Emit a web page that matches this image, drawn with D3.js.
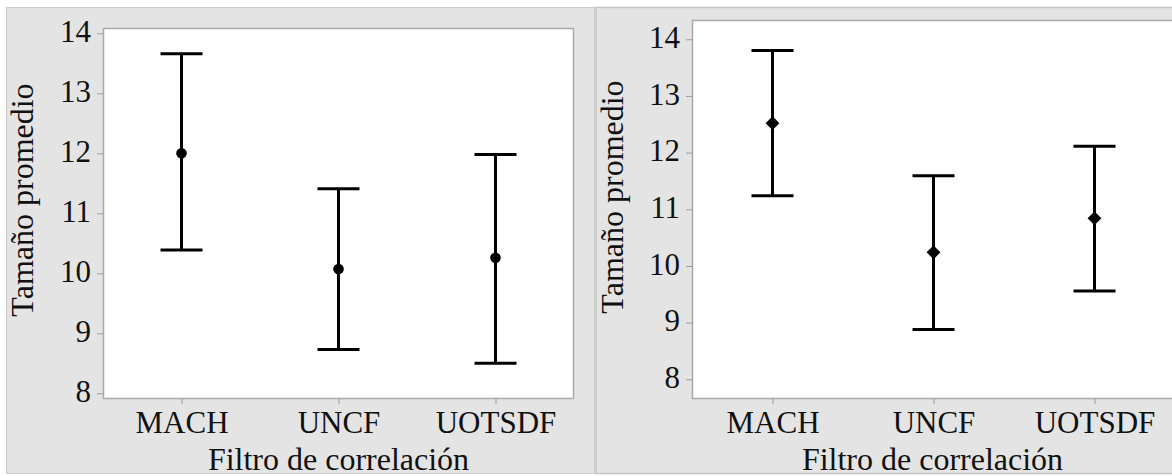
<!DOCTYPE html>
<html>
<head>
<meta charset="utf-8">
<script src="https://cdn.jsdelivr.net/npm/d3@7"></script>
<style>
  html, body { margin: 0; padding: 0; background: #ffffff; }
  svg { display: block; }
</style>
</head>
<body>
<svg id="chart" width="1172" height="476"></svg>
<script>
// Correlation filters compared in both panels
const categories = ["MACH", "UNCF", "UOTSDF"];

// Left panel: mean size with interval bounds
const leftMean  = [12.00, 10.07, 10.26];
const leftLower = [10.39,  8.73,  8.50];
const leftUpper = [13.66, 11.41, 11.98];

// Right panel: mean size with interval bounds
const rightMean  = [12.52, 10.24, 10.84];
const rightLower = [11.24,  8.88,  9.56];
const rightUpper = [13.80, 11.59, 12.11];

// Axis tick values and visible value ranges
const yTicks = [8, 9, 10, 11, 12, 13, 14];
const leftRange = [7.905, 14.088];
const rightRange = [7.652, 14.34];

const yTitle = "Tamaño promedio";
const xTitle = "Filtro de correlación";

const svg = d3.select("#chart");
const FONT = 31;
const FAMILY = "'Liberation Serif', 'Tinos', 'Times New Roman', serif";

// Panel backgrounds
svg.append("rect").attr("x", 6.5).attr("y", 7.5).attr("width", 588).attr("height", 466)
  .attr("fill", "#e4e4e4").attr("stroke", "#c9c9c9").attr("stroke-width", 1);
svg.append("rect").attr("x", 596).attr("y", 7.5).attr("width", 600).attr("height", 466)
  .attr("fill", "#e4e4e4").attr("stroke", "#c4c4c4").attr("stroke-width", 1.5);

function drawPanel(cfg) {
  const x = d3.scalePoint().domain(categories).range([cfg.left, cfg.right]).padding(0.5);
  const y = d3.scaleLinear().domain(cfg.domain).range([cfg.bottom, cfg.top]);
  const g = svg.append("g");

  // Plot area
  g.append("rect")
    .attr("x", cfg.left + 0.5).attr("y", cfg.top + 0.5)
    .attr("width", cfg.right - cfg.left - 1).attr("height", cfg.bottom - cfg.top - 1)
    .attr("fill", "#ffffff").attr("stroke", "#a9a9a9").attr("stroke-width", 1.5);

  // Y axis
  const ya = g.append("g").attr("transform", `translate(${cfg.left},0)`)
    .call(d3.axisLeft(y).tickValues(yTicks).tickSize(6).tickPadding(6).tickFormat(d3.format("d")));
  ya.attr("font-family", null).attr("font-size", null);
  ya.select(".domain").remove();
  ya.selectAll(".tick line").attr("stroke", "#9a9a9a");
  ya.selectAll(".tick text").attr("dy", "0.27em")
    .style("font-family", FAMILY).style("font-size", FONT + "px").attr("fill", "#111");

  // X axis
  const xa = g.append("g").attr("transform", `translate(0,${cfg.bottom})`)
    .call(d3.axisBottom(x).tickSize(5).tickPadding(6.5));
  xa.attr("font-family", null).attr("font-size", null);
  xa.select(".domain").remove();
  xa.selectAll(".tick line").attr("stroke", "#9a9a9a");
  xa.selectAll(".tick text")
    .style("font-family", FAMILY).style("font-size", FONT + "px").attr("fill", "#111");

  // Axis titles
  g.append("text")
    .attr("transform", `translate(${cfg.yTitleX},${cfg.yTitleY}) rotate(-90)`)
    .attr("text-anchor", "middle")
    .style("font-family", FAMILY).style("font-size", (FONT + 1) + "px").attr("fill", "#111")
    .text(yTitle);
  g.append("text")
    .attr("x", cfg.xTitleX).attr("y", 470)
    .attr("text-anchor", "middle")
    .style("font-family", FAMILY).style("font-size", (FONT + 1) + "px").attr("fill", "#111")
    .text(xTitle);

  const capHalf = 21;
  const rows = categories.map((c, i) => ({ c, mean: cfg.mean[i], lo: cfg.lower[i], hi: cfg.upper[i] }));
  const bars = g.append("g").selectAll("g").data(rows).join("g");

  bars.append("line")
    .attr("x1", d => x(d.c)).attr("x2", d => x(d.c))
    .attr("y1", d => y(d.hi)).attr("y2", d => y(d.lo))
    .attr("stroke", "#000").attr("stroke-width", 3);
  bars.append("line")
    .attr("x1", d => x(d.c) - capHalf).attr("x2", d => x(d.c) + capHalf)
    .attr("y1", d => y(d.hi)).attr("y2", d => y(d.hi))
    .attr("stroke", "#000").attr("stroke-width", 3);
  bars.append("line")
    .attr("x1", d => x(d.c) - capHalf).attr("x2", d => x(d.c) + capHalf)
    .attr("y1", d => y(d.lo)).attr("y2", d => y(d.lo))
    .attr("stroke", "#000").attr("stroke-width", 3);

  if (cfg.marker === "circle") {
    bars.append("circle")
      .attr("cx", d => x(d.c)).attr("cy", d => y(d.mean)).attr("r", 5.3)
      .attr("fill", "#000");
  } else {
    const diamond = d3.symbol().type(d3.symbolSquare).size(96)();
    bars.append("path")
      .attr("d", diamond)
      .attr("transform", d => `translate(${x(d.c)},${y(d.mean)}) rotate(45)`)
      .attr("fill", "#000");
  }
}

drawPanel({
  left: 103, right: 574, top: 28, bottom: 399,
  domain: leftRange, mean: leftMean, lower: leftLower, upper: leftUpper,
  marker: "circle", yTitleX: 33, yTitleY: 200, xTitleX: 338.5
});

drawPanel({
  left: 692, right: 1175, top: 20, bottom: 399,
  domain: rightRange, mean: rightMean, lower: rightLower, upper: rightUpper,
  marker: "diamond", yTitleX: 623, yTitleY: 197, xTitleX: 932.5
});
</script>
</body>
</html>
